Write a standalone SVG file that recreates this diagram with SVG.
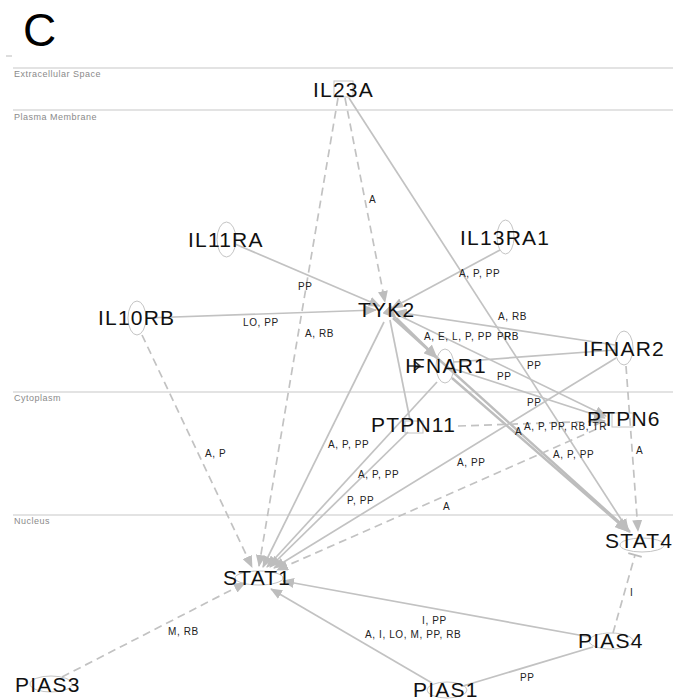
<svg xmlns="http://www.w3.org/2000/svg" width="679" height="700" viewBox="0 0 679 700">
<style>
.sep{stroke:#c8c8c8;stroke-width:1.2;fill:none}
.comp{font-family:"Liberation Sans",Arial,sans-serif;font-size:9px;letter-spacing:0.5px;fill:#8a8a8a}
.nl{font-family:"Liberation Sans",Arial,sans-serif;font-size:21px;letter-spacing:1.2px;fill:#111}
.el{font-family:"Liberation Sans",Arial,sans-serif;font-size:10px;letter-spacing:0.6px;fill:#222}
.shape{fill:none;stroke:#c4c4c4;stroke-width:1}
.e{fill:none;stroke:#c2c2c2;stroke-width:1.7}
.d{fill:none;stroke:#c2c2c2;stroke-width:1.7;stroke-dasharray:8 5}
.t{fill:none;stroke:#bdbdbd;stroke-width:2.5}
</style>
<defs>
<marker id="ar" viewBox="0 0 12 10" refX="11" refY="5" markerWidth="12" markerHeight="10" markerUnits="userSpaceOnUse" orient="auto">
<path d="M0,0 L12,5 L0,10 Z" fill="#bdbdbd"/>
</marker>
<marker id="arb" viewBox="0 0 14 12" refX="13" refY="6" markerWidth="14" markerHeight="12" markerUnits="userSpaceOnUse" orient="auto">
<path d="M0,0 L14,6 L0,12 Z" fill="#bdbdbd"/>
</marker>
<marker id="tee" viewBox="0 0 4 14" refX="2" refY="7" markerWidth="4" markerHeight="14" markerUnits="userSpaceOnUse" orient="auto">
<path d="M2,0 L2,14" stroke="#bdbdbd" stroke-width="2"/>
</marker>
</defs>
<rect width="679" height="700" fill="#fff"/>
<text x="23" y="46" font-family="'Liberation Sans',Arial,sans-serif" font-size="46" fill="#000">C</text>
<line x1="6" y1="56" x2="12" y2="56" stroke="#bbb" stroke-width="1"/>
<g id="compartments">
<line class="sep" x1="13" y1="68" x2="673" y2="68"/>
<line class="sep" x1="13" y1="110" x2="673" y2="110"/>
<line class="sep" x1="13" y1="392" x2="673" y2="392"/>
<line class="sep" x1="13" y1="515" x2="673" y2="515"/>
<text class="comp" x="14" y="77">Extracellular Space</text>
<text class="comp" x="14" y="120">Plasma Membrane</text>
<text class="comp" x="14" y="401">Cytoplasm</text>
<text class="comp" x="14" y="524">Nucleus</text>
</g>
<g id="connectors">
<line class="d" x1="345" y1="98" x2="385" y2="302" marker-end="url(#ar)"/>
<line class="d" x1="338" y1="98" x2="259" y2="566" marker-end="url(#ar)"/>
<line class="e" x1="349" y1="98" x2="628" y2="530" marker-end="url(#ar)"/>
<line class="e" x1="235" y1="244" x2="380" y2="306" marker-end="url(#ar)"/>
<line class="e" x1="500" y1="250" x2="392" y2="308" marker-end="url(#ar)"/>
<line class="e" x1="146" y1="318" x2="376" y2="310" marker-end="url(#ar)"/>
<line class="d" x1="142" y1="335" x2="252" y2="567" marker-end="url(#ar)"/>
<line class="e" x1="615" y1="345" x2="396" y2="312" marker-end="url(#ar)"/>
<line class="t" x1="396" y1="318" x2="437" y2="358" marker-end="url(#arb)" marker-start="url(#arb)"/>
<line class="t" x1="393" y1="318" x2="630" y2="532" marker-end="url(#arb)"/>
<line class="t" x1="452" y1="378" x2="628" y2="531" marker-end="url(#arb)"/>
<line class="e" x1="454" y1="362" x2="615" y2="350"/>
<line class="e" x1="454" y1="369" x2="605" y2="418" marker-end="url(#ar)"/>
<line class="e" x1="396" y1="314" x2="606" y2="416" marker-end="url(#ar)"/>
<line class="d" x1="458" y1="426" x2="605" y2="421" marker-end="url(#ar)"/>
<line class="e" x1="390" y1="320" x2="410" y2="420"/>
<line class="e" x1="384" y1="322" x2="263" y2="567" marker-end="url(#ar)"/>
<line class="e" x1="437" y1="382" x2="267" y2="567" marker-end="url(#ar)"/>
<line class="e" x1="408" y1="432" x2="270" y2="567" marker-end="url(#ar)"/>
<line class="e" x1="616" y1="358" x2="274" y2="568" marker-end="url(#ar)"/>
<line class="d" x1="608" y1="424" x2="277" y2="570" marker-end="url(#ar)"/>
<line class="d" x1="626" y1="366" x2="638" y2="531" marker-end="url(#ar)"/>
<line class="d" x1="613" y1="633" x2="635" y2="555" marker-end="url(#tee)"/>
<line class="e" x1="590" y1="637" x2="283" y2="581" marker-end="url(#ar)"/>
<line class="e" x1="432" y1="683" x2="271" y2="589" marker-end="url(#ar)"/>
<line class="e" x1="463" y1="686" x2="593" y2="647"/>
<line class="d" x1="62" y1="677" x2="245" y2="583" marker-end="url(#ar)"/>
<path d="M408,366 L420,366 M414,361 L420,366 L414,371" stroke="#333" stroke-width="1.6" fill="none"/>
</g>
<g id="edge-labels">
<text class="el" x="369" y="203">A</text>
<text class="el" x="298" y="290">PP</text>
<text class="el" x="459" y="277">A, P, PP</text>
<text class="el" x="243" y="326">LO, PP</text>
<text class="el" x="305" y="337">A, RB</text>
<text class="el" x="498" y="320">A, RB</text>
<text class="el" x="424" y="340">A, E, L, P, PP</text>
<text class="el" x="497" y="340">PP</text>
<text class="el" x="504" y="340">RB</text>
<text class="el" x="497" y="380">PP</text>
<text class="el" x="527" y="369">PP</text>
<text class="el" x="527" y="406">PP</text>
<text class="el" x="524" y="430">A, P, PP, RB, TR</text>
<text class="el" x="515" y="435">A</text>
<text class="el" x="553" y="458">A, P, PP</text>
<text class="el" x="636" y="454">A</text>
<text class="el" x="457" y="466">A, PP</text>
<text class="el" x="328" y="448">A, P, PP</text>
<text class="el" x="358" y="478">A, P, PP</text>
<text class="el" x="347" y="504">P, PP</text>
<text class="el" x="443" y="510">A</text>
<text class="el" x="205" y="457">A, P</text>
<text class="el" x="168" y="635">M, RB</text>
<text class="el" x="422" y="624">I, PP</text>
<text class="el" x="365" y="638">A, I, LO, M, PP, RB</text>
<text class="el" x="520" y="681">PP</text>
<text class="el" x="630" y="596">I</text>
</g>
<g id="IL23A"><rect class="shape" x="334" y="81" width="19" height="16"/><text class="nl" x="313" y="97">IL23A</text></g>
<g id="IL11RA"><ellipse class="shape" cx="226.5" cy="239.5" rx="9.5" ry="17.5"/><text class="nl" x="188" y="247">IL11RA</text></g>
<g id="IL13RA1"><ellipse class="shape" cx="505.5" cy="237" rx="8.5" ry="17"/><text class="nl" x="460" y="245">IL13RA1</text></g>
<g id="TYK2"><text class="nl" x="358" y="317">TYK2</text></g>
<g id="IL10RB"><ellipse class="shape" cx="137" cy="318" rx="9" ry="17"/><text class="nl" x="98" y="325">IL10RB</text></g>
<g id="IFNAR2"><ellipse class="shape" cx="624" cy="348" rx="9" ry="17"/><text class="nl" x="583" y="356">IFNAR2</text></g>
<g id="IFNAR1"><ellipse class="shape" cx="445" cy="366" rx="9" ry="17"/><text class="nl" x="405" y="373">IFNAR1</text></g>
<g id="PTPN11"><rect class="shape" x="405" y="421" width="18" height="12"/><text class="nl" x="371" y="432">PTPN11</text></g>
<g id="PTPN6"><rect class="shape" x="612" y="413" width="21" height="14"/><text class="nl" x="587" y="426">PTPN6</text></g>
<g id="STAT4"><ellipse class="shape" cx="642" cy="545" rx="22" ry="7"/><text class="nl" x="605" y="548">STAT4</text></g>
<g id="STAT1"><ellipse class="shape" cx="259" cy="578" rx="24" ry="7"/><text class="nl" x="223" y="585">STAT1</text></g>
<g id="PIAS4"><ellipse class="shape" cx="611" cy="641" rx="22" ry="8"/><text class="nl" x="578" y="648">PIAS4</text></g>
<g id="PIAS1"><ellipse class="shape" cx="447" cy="690" rx="20" ry="8"/><text class="nl" x="413" y="697">PIAS1</text></g>
<g id="PIAS3"><ellipse class="shape" cx="51" cy="684" rx="21" ry="8"/><text class="nl" x="15" y="692">PIAS3</text></g>
</svg>
